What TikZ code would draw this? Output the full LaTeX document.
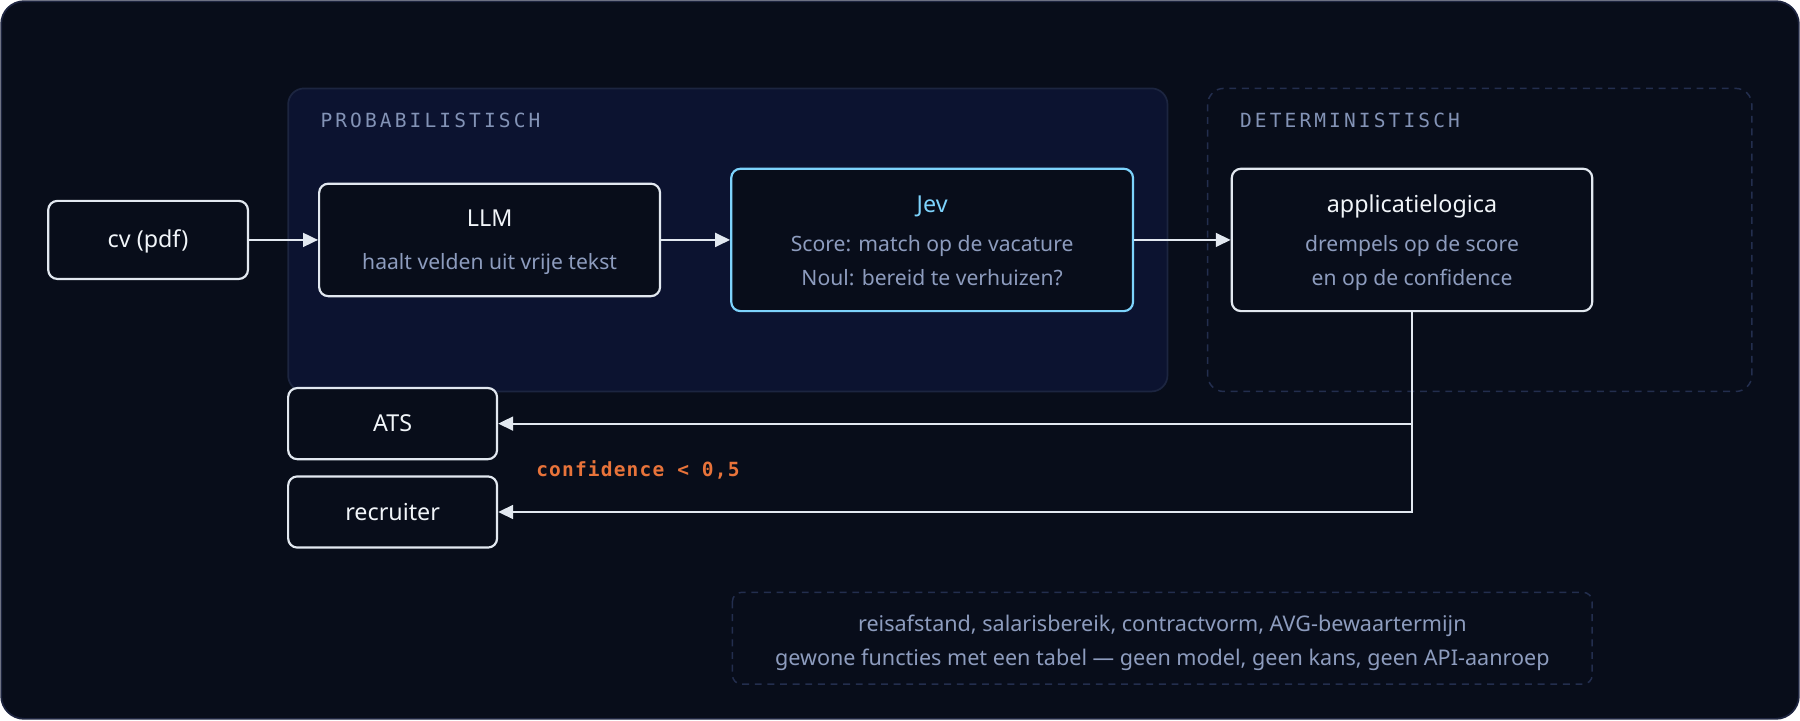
\documentclass[tikz,border=0pt]{standalone}
\usepackage{fontspec}
\setmainfont{Noto Sans}
\newfontfamily\labelmono[LetterSpace=16]{DejaVu Sans Mono}
\newfontfamily\condmono[LetterSpace=6]{DejaVu Sans Mono}
\usetikzlibrary{arrows.meta}
\definecolor{bgc}{HTML}{080D1A}
\definecolor{outerc}{HTML}{1E2540}
\definecolor{probfill}{HTML}{0C1330}
\definecolor{probline}{HTML}{1C2540}
\definecolor{detline}{HTML}{232E4E}
\definecolor{boxline}{HTML}{E2E8F0}
\definecolor{titlec}{HTML}{F1F5F9}
\definecolor{subc}{HTML}{8D9CBE}
\definecolor{labc}{HTML}{8393B6}
\definecolor{jevc}{HTML}{7DD3FC}
\definecolor{orangec}{HTML}{E8733A}
\tikzset{
  boxnode/.style={draw=boxline, fill=bgc, line width=1.9pt, rounded corners=8pt, inner sep=0pt},
  titletext/.style={text=titlec, font=\fontsize{20.3}{22}\selectfont, inner sep=0pt, anchor=base},
  subtext/.style={text=subc, font=\fontsize{18.4}{20}\selectfont, inner sep=0pt, anchor=base},
  notetext/.style={text=subc, font=\fontsize{18.8}{20}\selectfont, inner sep=0pt, anchor=base},
  grouplabel/.style={text=labc, font=\labelmono\fontsize{17}{19}\selectfont, inner sep=0pt, anchor=base west},
  flow/.style={draw=boxline, line width=1.9pt, -{Triangle[length=13pt,width=12pt]}},
}
\begin{document}
\begin{tikzpicture}[x=1pt,y=-1pt]
\useasboundingbox (0,0) rectangle (1568,627.2);
% outer panel
\draw[fill=bgc, draw=outerc, line width=1.5pt, rounded corners=20pt] (1,1) rectangle (1567,626.2);
% containers
\draw[fill=probfill, draw=probline, line width=1.5pt, rounded corners=14pt] (251,77) rectangle (1017,341);
\draw[draw=detline, line width=1.3pt, dash pattern=on 6pt off 5pt, rounded corners=14pt] (1052,77) rectangle (1526,341);
\node[grouplabel] (lprob) at (279,111) {PROBABILISTISCH};
\node[grouplabel] (ldet) at (1080,111) {DETERMINISTISCH};
% boxes
\node[boxnode, minimum width=174pt, minimum height=68pt] (cv) at (129,209) {};
\node[titletext] (cvt) at (129,216) {cv (pdf)};
\node[boxnode, minimum width=297pt, minimum height=98pt] (llm) at (426.5,209) {};
\node[titletext] (llmt) at (426.5,197) {LLM};
\node[subtext] (llms) at (426.5,235) {haalt velden uit vrije tekst};
\node[boxnode, draw=jevc, minimum width=350pt, minimum height=124pt] (jev) at (812,209) {};
\node[titletext, text=jevc] (jevt) at (812,185) {Jev};
\node[subtext] (jevs1) at (812,219) {Score: match op de vacature};
\node[subtext] (jevs2) at (812,249) {Noul: bereid te verhuizen?};
\node[boxnode, minimum width=314pt, minimum height=124pt] (app) at (1230,209) {};
\node[titletext] (appt) at (1230,185) {applicatielogica};
\node[subtext] (apps1) at (1230,219) {drempels op de score};
\node[subtext] (apps2) at (1230,249) {en op de confidence};
\node[boxnode, minimum width=182pt, minimum height=62pt] (ats) at (342,369) {};
\node[titletext] (atst) at (342,376) {ATS};
\node[boxnode, minimum width=182pt, minimum height=62pt] (rec) at (342,446) {};
\node[titletext] (rect) at (342,453) {recruiter};
% flows
\draw[flow] (cv.east) -- (llm.west);
\draw[flow] (llm.east) -- (jev.west);
\draw[flow] (jev.east) -- (app.west);
\coordinate (split) at (app.south |- ats.east);
\coordinate (corner) at (app.south |- rec.east);
\draw[flow] (app.south) -- (split) -- (ats.east);
\draw[flow] (split) -- (corner) -- (rec.east);
\node[text=orangec, font=\condmono\bfseries\fontsize{17}{19}\selectfont, inner sep=0pt, anchor=base west] (cond) at (467,415) {confidence < 0,5};
% note box
\draw[draw=detline, line width=1.3pt, dash pattern=on 6pt off 5pt, rounded corners=8pt] (638,516) rectangle (1387,596);
\node[notetext] (n1) at (1012.5,550) {reisafstand, salarisbereik, contractvorm, AVG-bewaartermijn};
\node[notetext] (n2) at (1012.5,580) {gewone functies met een tabel — geen model, geen kans, geen API-aanroep};
\end{tikzpicture}
\end{document}
